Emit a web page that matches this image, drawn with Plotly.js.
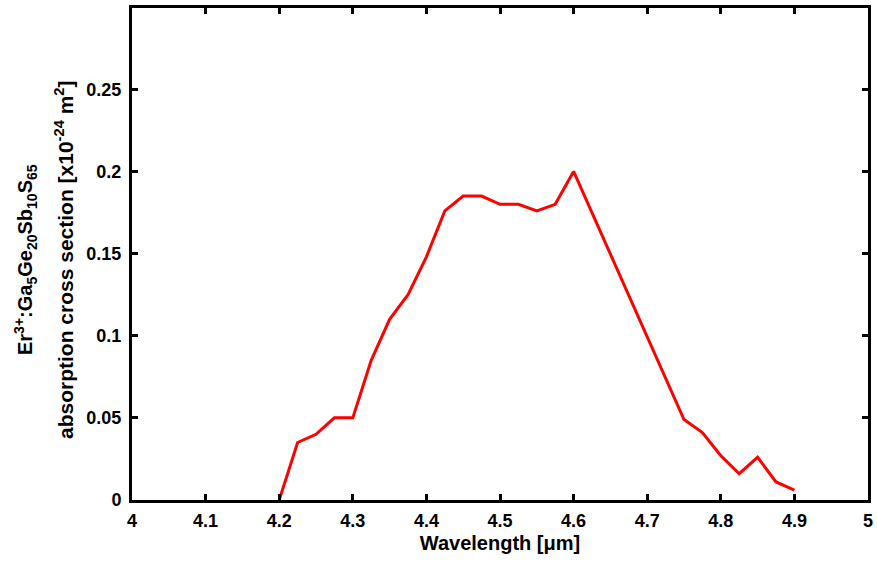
<!DOCTYPE html>
<html>
<head>
<meta charset="utf-8">
<script src="https://cdn.plot.ly/plotly-3.0.1.min.js"></script>
<style>html,body{margin:0;padding:0;background:#fff;}#chart{width:877px;height:562px;}</style>
</head>
<body>
<div id="chart"></div>
<script>
const wavelength = [4.2, 4.225, 4.25, 4.275, 4.3, 4.325, 4.35, 4.375, 4.4, 4.425, 4.45, 4.475, 4.5, 4.525, 4.55, 4.575, 4.6, 4.625, 4.65, 4.675, 4.7, 4.725, 4.75, 4.775, 4.8, 4.825, 4.85, 4.875, 4.9];
const crossSection = [0, 0.035, 0.04, 0.05, 0.05, 0.085, 0.11, 0.125, 0.148, 0.176, 0.185, 0.185, 0.18, 0.18, 0.176, 0.18, 0.2, 0.175, 0.15, 0.125, 0.1, 0.075, 0.049, 0.041, 0.027, 0.016, 0.026, 0.011, 0.006];
const xTicks = [4, 4.1, 4.2, 4.3, 4.4, 4.5, 4.6, 4.7, 4.8, 4.9, 5];
const xTickText = ["4", "4.1", "4.2", "4.3", "4.4", "4.5", "4.6", "4.7", "4.8", "4.9", "5"];
const yTicks = [0, 0.05, 0.1, 0.15, 0.2, 0.25];
const yTickText = ["0", "0.05", "0.1", "0.15", "0.2", "0.25"];
const xTitle = "<b>Wavelength [μm]</b>";
const yTitleLine1 = "<b>Er<sup>3+</sup>:Ga<sub>5</sub>Ge<sub>20</sub>Sb<sub>10</sub>S<sub>65</sub></b>";
const yTitleLine2 = "<b>absorption cross section [x10<sup>-24</sup> m<sup>2</sup>]</b>";

const FAM = "Liberation Sans, Arial, sans-serif";
const axisCommon = {
  showline: true, linecolor: "#000", linewidth: 3, mirror: "ticks",
  ticks: "inside", ticklen: 6, tickwidth: 3, tickcolor: "#000",
  showgrid: false, zeroline: false,
  tickfont: {family: FAM, size: 18, color: "#000", weight: "bold"},
  tickmode: "array"
};
const L = 132, R = 868, T = 8, B = 500;
function px2paperX(px) { return (px - L) / (R - L); }
function px2paperY(py) { return (B - py) / (B - T); }

Plotly.newPlot("chart", [{
  x: wavelength, y: crossSection, type: "scatter", mode: "lines",
  line: {color: "#ff0000", width: 3}, hoverinfo: "skip"
}], {
  width: 877, height: 562,
  margin: {l: L, r: 877 - R, t: T, b: 562 - B},
  paper_bgcolor: "#fff", plot_bgcolor: "#fff",
  showlegend: false,
  font: {family: FAM, size: 18, color: "#000"},
  xaxis: Object.assign({}, axisCommon, {
    range: [4, 5], tickvals: xTicks, ticktext: xTickText, ticklabelstandoff: 2,
    title: {text: xTitle, font: {family: FAM, size: 20, color: "#000"}, standoff: 7}
  }),
  yaxis: Object.assign({}, axisCommon, {
    range: [0, 0.2995], tickvals: yTicks, ticktext: yTickText, ticklabelstandoff: 4
  }),
  annotations: [
    {text: yTitleLine1, xref: "paper", yref: "paper", x: px2paperX(25), y: px2paperY(260),
     xanchor: "center", yanchor: "middle", textangle: -90, showarrow: false,
     font: {family: FAM, size: 20, color: "#000"}},
    {text: yTitleLine2, xref: "paper", yref: "paper", x: px2paperX(64), y: px2paperY(260),
     xanchor: "center", yanchor: "middle", textangle: -90, showarrow: false,
     font: {family: FAM, size: 21, color: "#000"}}
  ]
}, {displayModeBar: false, staticPlot: true});
</script>
</body>
</html>
